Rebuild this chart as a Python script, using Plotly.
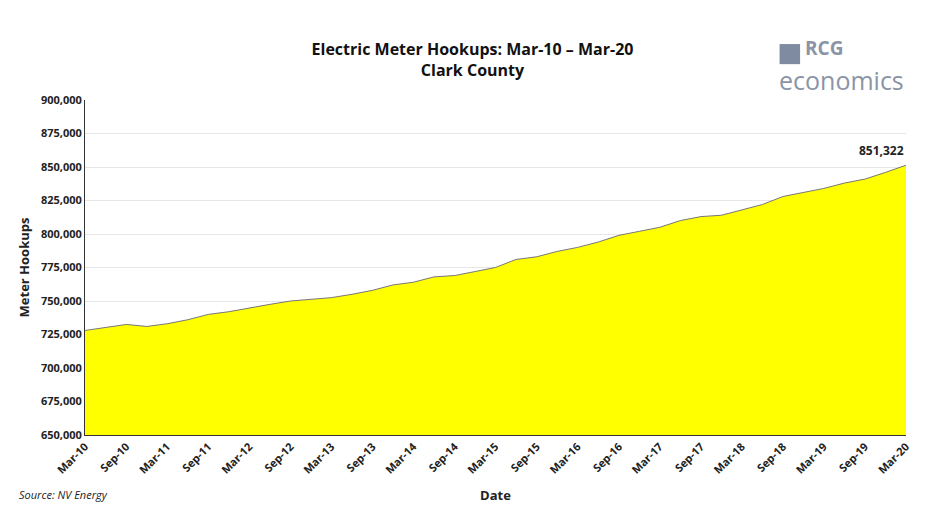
import plotly.graph_objects as go
import pandas as pd

dates = pd.date_range("2010-03-01", "2020-03-01", freq="3MS")
hookups = [728000, 730000, 732500, 731000, 733000, 736000, 740000, 742000, 745000, 747500,
           750000, 751000, 752500, 755000, 758000, 762000, 764000, 768000, 769000, 772000,
           775000, 781000, 783000, 787000, 790000, 794000, 799000, 802000, 805000, 810000,
           813000, 814000, 818000, 822000, 828000, 831000, 834000, 838000, 841000, 846000, 851322]
tick_dates = pd.date_range("2010-03-01", "2020-03-01", freq="6MS")
tick_labels = [d.strftime("%b-%y") for d in tick_dates]

fig = go.Figure()
fig.add_trace(go.Scatter(x=dates, y=hookups, mode="lines", fill="tozeroy",
                         fillcolor="#ffff00", line=dict(color="#777777", width=1)))
fig.add_annotation(x=dates[-1], y=hookups[-1], text="<b>851,322</b>", showarrow=False,
                   xanchor="right", yanchor="bottom", yshift=4, font=dict(size=12, color="#222"))
fig.add_annotation(xref="paper", yref="paper", x=-0.083, y=-0.205, text="<i>Source: NV Energy</i>",
                   showarrow=False, xanchor="left", font=dict(size=11, color="#222"))
fig.add_shape(type="rect", xref="paper", yref="paper", x0=0.846, x1=0.871, y0=1.107, y1=1.167,
              fillcolor="#7f8ba0", line=dict(width=0))
fig.add_annotation(xref="paper", yref="paper", x=0.874, y=1.2, xanchor="left",
                   text="<b>RCG</b>", showarrow=False, font=dict(size=19, color="#8a94a6", family="Open Sans"))
fig.add_annotation(xref="paper", yref="paper", x=1.0, y=1.115, xanchor="right",
                   text="economics", showarrow=False, font=dict(size=25, color="#8a94a6", family="Open Sans"))
fig.update_layout(
    width=929, height=517, plot_bgcolor="white", paper_bgcolor="white",
    margin=dict(l=77, r=31, t=92, b=90),
    font=dict(family="Open Sans", color="#222"),
    title=dict(text="<b>Electric Meter Hookups: Mar-10 – Mar-20<br>Clark County</b>",
               x=0.5, xanchor="center", y=0.909, yanchor="bottom", font=dict(size=16, color="#111")),
    showlegend=False,
    xaxis=dict(range=[dates[0], dates[-1]], tickvals=tick_dates, ticktext=tick_labels,
               tickangle=-45, showgrid=False, automargin=False,
               title=dict(text="<b>Date</b>", font=dict(size=13)),
               tickfont=dict(size=11, weight="bold"), showline=True, linecolor="#333"),
    yaxis=dict(range=[650000, 900000], dtick=25000, tickformat=",", gridcolor="#e6e6e6",
               automargin=False, title=dict(text="<b>Meter Hookups</b>", font=dict(size=13), standoff=8),
               tickfont=dict(size=11, weight="bold"), showline=True, linecolor="#333"),
)
fig.write_html("out.html")
